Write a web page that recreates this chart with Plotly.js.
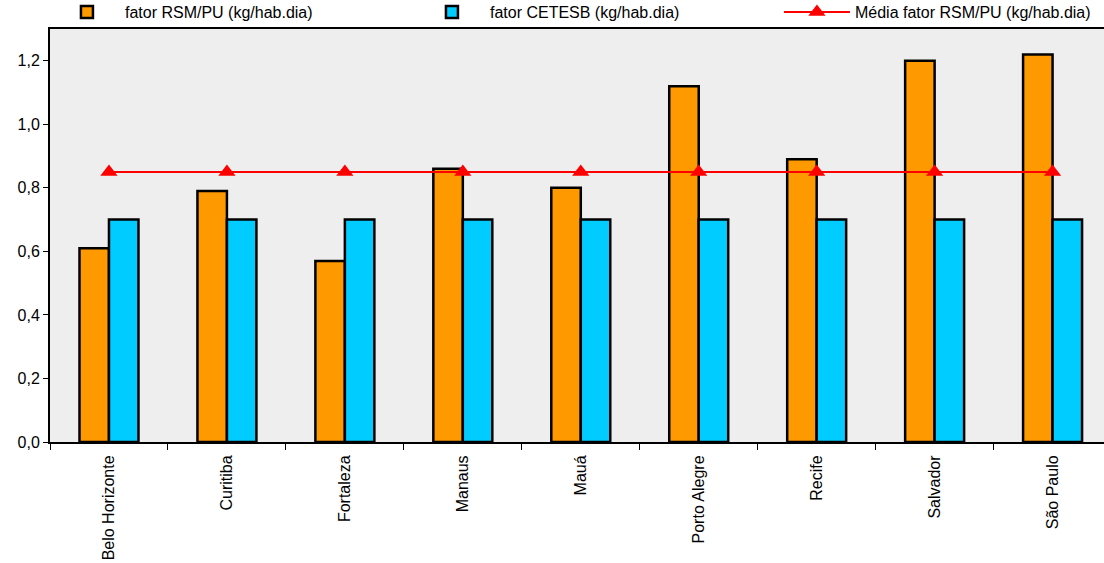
<!DOCTYPE html>
<html>
<head>
<meta charset="utf-8">
<script src="https://cdn.plot.ly/plotly-3.0.1.min.js"></script>
<style>html,body{margin:0;padding:0;background:#fff;}#chart{width:1104px;height:563px;}</style>
</head>
<body>
<div id="chart"></div>
<script>
const cities = ["Belo Horizonte","Curitiba","Fortaleza","Manaus","Mauá","Porto Alegre","Recife","Salvador","São Paulo"];
const fatorRSM = [0.61,0.79,0.57,0.86,0.80,1.12,0.89,1.20,1.22];
const fatorCETESB = [0.70,0.70,0.70,0.70,0.70,0.70,0.70,0.70,0.70];
const mediaRSM = [0.85,0.85,0.85,0.85,0.85,0.85,0.85,0.85,0.85];
const yTicks = [0,0.2,0.4,0.6,0.8,1.0,1.2];

const font = {family:"Liberation Sans, Arial, sans-serif", size:16, color:"#000"};
const traces = [
  {type:"bar", name:"fator RSM/PU (kg/hab.dia)", x:cities, y:fatorRSM,
   marker:{color:"#ff9900", line:{color:"#000", width:2.5}}},
  {type:"bar", name:"fator CETESB (kg/hab.dia)", x:cities, y:fatorCETESB,
   marker:{color:"#00ccff", line:{color:"#000", width:2.5}}},
  {type:"scatter", mode:"lines+markers", name:"Média fator RSM/PU (kg/hab.dia)", x:cities, y:mediaRSM,
   line:{color:"#ff0000", width:2}, marker:{symbol:"triangle-up", size:15, color:"#ff0000"}}
];
const layout = {
  width:1104, height:563,
  margin:{l:50, r:0, t:29, b:121, pad:0, autoexpand:false},
  paper_bgcolor:"#fff", plot_bgcolor:"#eeeeee",
  font:font,
  separators:",.",
  barmode:"group", bargap:0.5, bargroupgap:0,
  showlegend:true,
  legend:{orientation:"h", x:-0.001, xanchor:"left", y:1, yanchor:"bottom",
          entrywidth:284, entrywidthmode:"pixels", itemwidth:66, traceorder:"normal",
          font:font, bgcolor:"rgba(0,0,0,0)"},
  xaxis:{type:"category", range:[-0.5, 8.436], tickson:"boundaries", ticks:"outside", ticklen:6,
         tickcolor:"#000", tickwidth:1, tickangle:-90, showline:true, linecolor:"#000", linewidth:2,
         mirror:true, showgrid:false, zeroline:false, tickfont:font, ticklabelstandoff:5, fixedrange:true},
  yaxis:{range:[0,1.3], tickvals:yTicks, tickformat:".1f", ticks:"outside", ticklen:5, tickcolor:"#000",
         showline:true, linecolor:"#000", linewidth:2, showgrid:false, zeroline:false, tickfont:font}
};
Plotly.newPlot("chart", traces, layout, {displayModeBar:false, staticPlot:true});
</script>
</body>
</html>
